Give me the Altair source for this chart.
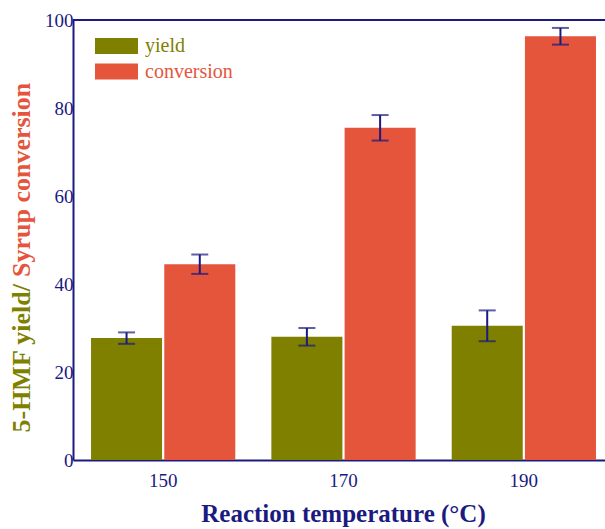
import altair as alt
import pandas as pd

# Reaction temperatures (°C) and measured values (%)
temps = ["150", "170", "190"]
yield_vals = [27.7, 28.0, 30.5]
yield_err = [1.3, 2.0, 3.5]
conv_vals = [44.5, 75.5, 96.3]
conv_err = [2.2, 2.9, 1.9]

series_names = ["yield", "conversion"]
series_colors = ["#7f7f00", "#e5553c"]
navy = "#1a1a80"
serif = "Liberation Serif"

W, H = 532, 440
X_RANGE = 541  # the band scale runs slightly past the right edge of the view

rows = []
for t, v, e in zip(temps, yield_vals, yield_err):
    rows.append({"temp": t, "series": "yield", "value": v, "lo": v - e, "hi": v + e})
for t, v, e in zip(temps, conv_vals, conv_err):
    rows.append({"temp": t, "series": "conversion", "value": v, "lo": v - e, "hi": v + e})
df = pd.DataFrame(rows)

base = alt.Chart(df).encode(
    x=alt.X(
        "temp:N",
        sort=temps,
        scale=alt.Scale(paddingInner=0.2, paddingOuter=0.1, range=[0, X_RANGE]),
        axis=alt.Axis(
            title="Reaction temperature (°C)",
            labelAngle=0,
            ticks=False,
            tickSize=0,
            labelPadding=11,
            labelFont=serif,
            labelFontSize=19,
            labelColor=navy,
            titleFont=serif,
            titleFontSize=25,
            titleFontWeight="bold",
            titleColor=navy,
            titlePadding=11,
            titleX=270,
            domainColor=navy,
            domainWidth=2,
            grid=False,
        ),
    ),
    xOffset=alt.XOffset("series:N", sort=series_names, scale=alt.Scale(paddingInner=0.03)),
)

bars = base.mark_bar().encode(
    y=alt.Y(
        "value:Q",
        scale=alt.Scale(domain=[0, 100], nice=False),
        axis=alt.Axis(
            title=None,
            values=[0, 20, 40, 60, 80, 100],
            ticks=False,
            tickSize=0,
            labelPadding=0,
            labelFont=serif,
            labelFontSize=19,
            labelColor=navy,
            domainColor=navy,
            domainWidth=2,
            grid=False,
        ),
    ),
    color=alt.Color(
        "series:N",
        scale=alt.Scale(domain=series_names, range=series_colors),
        legend=None,
    ),
)

err_rule = base.mark_rule(color=navy, strokeWidth=2).encode(y="lo:Q", y2="hi:Q")
cap_lo = base.mark_tick(color=navy, thickness=2, size=17).encode(y="lo:Q")
cap_hi = base.mark_tick(color=navy, thickness=2, size=17).encode(y="hi:Q")

one = pd.DataFrame({"k": [0]})

# frame line along the top of the plot
top_line = alt.Chart(one).mark_rule(color=navy, strokeWidth=2).encode(
    x=alt.value(0), x2=alt.value(X_RANGE), y=alt.value(0)
)

# legend swatches and labels
legend_layers = []
for name, color, yc in zip(series_names, series_colors, [26, 51.5]):
    legend_layers.append(
        alt.Chart(one).mark_rect(color=color).encode(
            x=alt.value(22), x2=alt.value(65), y=alt.value(yc - 8), y2=alt.value(yc + 8)
        )
    )
    legend_layers.append(
        alt.Chart(one).mark_text(
            text=name, font=serif, fontSize=20, color=color, align="left", baseline="middle"
        ).encode(x=alt.value(72), y=alt.value(yc))
    )

# two-coloured y-axis title, drawn as rotated text with a word gap between parts
title_join = 264
word_gap = 7
ytitle_a = alt.Chart(one).mark_text(
    text="5-HMF yield/", font=serif, fontSize=26, fontWeight="bold",
    color=series_colors[0], angle=270, align="right", baseline="middle",
).encode(x=alt.value(-51), y=alt.value(title_join))
ytitle_b = alt.Chart(one).mark_text(
    text="Syrup conversion", font=serif, fontSize=26, fontWeight="bold",
    color=series_colors[1], angle=270, align="left", baseline="middle",
).encode(x=alt.value(-51), y=alt.value(title_join - word_gap))

chart = alt.layer(
    bars, err_rule, cap_lo, cap_hi, top_line, *legend_layers, ytitle_a, ytitle_b
).properties(
    width=W,
    height=H,
    autosize=alt.AutoSizeParams(type="none"),
    padding={"left": 73, "top": 20, "right": 0, "bottom": 69},
    background="white",
).configure_view(stroke=None)

chart.save("out.html", embed_options={"renderer": "svg", "actions": False})
